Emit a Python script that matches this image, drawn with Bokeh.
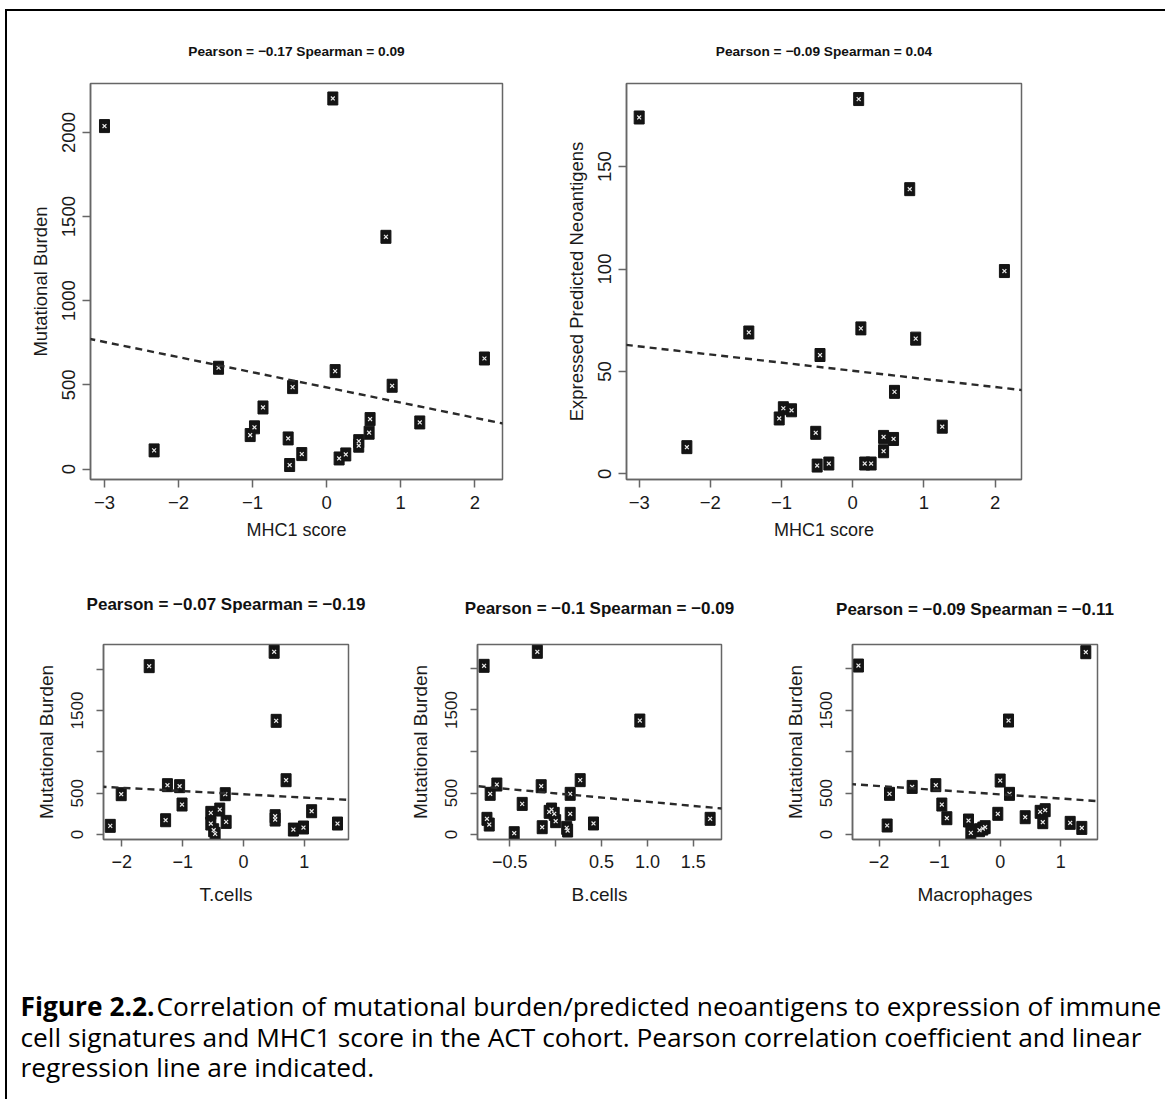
from bokeh.plotting import figure
from bokeh.layouts import column, row
from bokeh.models import Spacer, Slope, FixedTicker, Range1d, ColumnDataSource
from bokeh.core.properties import value
from bokeh.embed import file_html
from bokeh.resources import INLINE

# ---------------- data ----------------
mhc1 = [-3.0, -2.33, -1.46, -1.033, -0.975, -0.86, -0.52, -0.50, -0.46, -0.336, 0.083,
        0.114, 0.168, 0.258, 0.433, 0.433, 0.573, 0.586, 0.80, 0.884, 1.257, 2.13]
mut_mhc1 = [2038, 111, 602, 202, 248, 366, 182, 24, 487, 89, 2202,
            582, 63, 87, 139, 166, 216, 297, 1380, 495, 277, 657]
neo_mhc1 = [174, 13, 69, 27, 32, 31, 20, 4, 58, 5, 183,
            71, 5, 5, 18, 11, 17, 40, 139, 66, 23, 99]

tcells = [-2.19, -2.01, -1.55, -1.25, -1.05, -1.01, -1.28, -0.537, -0.537, -0.49, -0.466,
          -0.39, -0.285, -0.30, 0.504, 0.537, 0.70, 0.52, 0.52, 0.82, 0.986, 1.12, 1.545]
mut_tcells = [105, 488, 2036, 597, 585, 363, 173, 262, 133, 52, 8,
              302, 153, 488, 2210, 1375, 657, 222, 181, 60, 85, 282, 133]

bcells = [-0.78, -0.20, 0.917, 0.267, -0.641, -0.158, -0.714, 0.158, -0.365, -0.749, -0.724,
          -0.452, -0.147, -0.071, -0.045, -0.016, 0.0, 0.12, 0.13, 0.158, 0.412, 1.683]
mut_bcells = [2032, 2201, 1373, 655, 602, 582, 490, 490, 369, 189, 120,
              16, 88, 273, 301, 249, 161, 80, 48, 249, 133, 189]

macro = [-2.34, 1.414, 0.138, 0.0, -1.453, -1.062, -1.827, 0.154, -0.963, -0.88, -1.866,
         -0.523, -0.484, -0.341, -0.286, -0.248, -0.039, 0.413, 0.66, 0.743, 0.704, 1.156, 1.348]
mut_macro = [2040, 2201, 1376, 652, 575, 596, 491, 491, 362, 197, 109,
             169, 20, 52, 72, 89, 250, 209, 274, 294, 149, 141, 80]

# regression lines (slope, intercept)
fit_mhc1_mut = (-90.1, 485.0)
fit_mhc1_neo = (-3.97, 50.3)
fit_tcells = (-39.3, 486.6)
fit_bcells = (-100.9, 496.0)
fit_macro = (-50.4, 484.7)

titles = ["Pearson = \u22120.17 Spearman = 0.09",
          "Pearson = \u22120.09 Spearman = 0.04",
          "Pearson = \u22120.07 Spearman = \u22120.19",
          "Pearson = \u22120.1 Spearman = \u22120.09",
          "Pearson = \u22120.09 Spearman = \u22120.11"]

ticks_mhc1_x = [-3, -2, -1, 0, 1, 2]
ticks_mut_top = [0, 500, 1000, 1500, 2000]
ticks_neo = [0, 50, 100, 150]
ticks_t_x = [-2, -1, 0, 1]
ticks_b_x = [-0.5, 0.0, 0.5, 1.0, 1.5]
ticks_m_x = [-2, -1, 0, 1]
ticks_mut_bottom = [0, 500, 1000, 1500, 2000]
labels_mut_bottom = ["0", "500", "", "1500", ""]
labels_b_x = ["\u22120.5", "", "0.5", "1.0", "1.5"]

caption_bold = "Figure 2.2."
caption_l1 = "Correlation of mutational burden/predicted neoantigens to expression of immune"
caption_l2 = "cell signatures and MHC1 score in the ACT cohort. Pearson correlation coefficient and linear"
caption_l3 = "regression line are indicated."

FONT = "Liberation Sans"
GRAY = "#666666"


def fmt(v):
    if isinstance(v, float) and v != int(v):
        s = "%.1f" % v
    else:
        s = "%d" % int(v)
    return s.replace("-", "\u2212")


def panel(x, y, xr, yr, xt, yt, title, xlabel, ylabel, fit,
          fw, fh, bl, br, bt, bb, big, tstand, xt_labels=None, yt_labels=None):
    p = figure(frame_width=fw, frame_height=fh, x_range=Range1d(*xr), y_range=Range1d(*yr),
               min_border_left=bl, min_border_right=br, min_border_top=bt, min_border_bottom=bb,
               output_backend="svg", toolbar_location=None, title=title)
    p.grid.visible = False
    p.outline_line_color = GRAY
    p.outline_line_width = 1.5
    p.background_fill_color = "white"
    p.border_fill_color = "white"
    p.title.align = "center"
    p.title.text_font = FONT
    p.title.text_font_style = "bold"
    p.title.text_color = "#111111"
    p.title.standoff = tstand
    p.title.text_font_size = "13.7px" if big else "17px"

    for ax in (p.xaxis[0], p.yaxis[0]):
        ax.axis_line_color = GRAY
        ax.axis_line_width = 1.5
        ax.major_tick_line_color = GRAY
        ax.major_tick_line_width = 1.5
        ax.major_tick_out = 8 if big else 7
        ax.major_tick_in = 0
        ax.minor_tick_out = 0
        ax.minor_tick_in = 0
        ax.major_label_text_font = FONT
        ax.major_label_text_color = "#1a1a1a"
        ax.axis_label_text_font = FONT
        ax.axis_label_text_font_style = "normal"
        ax.axis_label_text_color = "#1a1a1a"

    p.xaxis.ticker = FixedTicker(ticks=xt)
    p.yaxis.ticker = FixedTicker(ticks=yt)
    xl = xt_labels if xt_labels is not None else [fmt(v) for v in xt]
    yl = yt_labels if yt_labels is not None else [fmt(v) for v in yt]
    p.xaxis.major_label_overrides = {v: l for v, l in zip(xt, xl)}
    p.yaxis.major_label_overrides = {v: l for v, l in zip(yt, yl)}
    p.yaxis.major_label_orientation = "vertical"
    p.xaxis.axis_label = xlabel
    p.yaxis.axis_label = ylabel
    if big:
        p.xaxis.major_label_text_font_size = "18.5px"
        p.yaxis.major_label_text_font_size = "18.5px"
        p.xaxis.axis_label_text_font_size = "18px"
        p.yaxis.axis_label_text_font_size = "18.5px"
        p.xaxis.major_label_standoff = 8
        p.yaxis.major_label_standoff = 7
        p.xaxis.axis_label_standoff = 8
        p.yaxis.axis_label_standoff = 9
    else:
        p.xaxis.major_label_text_font_size = "18px"
        p.yaxis.major_label_text_font_size = "17px"
        p.xaxis.axis_label_text_font_size = "19px"
        p.yaxis.axis_label_text_font_size = "19px"
        p.xaxis.major_label_standoff = 8
        p.yaxis.major_label_standoff = 13
        p.xaxis.axis_label_standoff = 13
        p.yaxis.axis_label_standoff = 12

    p.add_layout(Slope(gradient=fit[0], y_intercept=fit[1], line_color="#2a2a2a",
                       line_width=2.4, line_dash="7 5"))
    src = ColumnDataSource(dict(x=x, y=y))
    p.rect("x", "y", width=10, height=13, width_units="screen", height_units="screen",
           fill_color="#141414", line_color="#141414", line_width=1, source=src)
    p.scatter("x", "y", marker="x", size=5.5, line_color="#e8e8e8", line_width=1.2, source=src)
    return p


tl = panel(mhc1, mut_mhc1, (-3.189, 2.374), (-62, 2291), ticks_mhc1_x, ticks_mut_top,
           titles[0], "MHC1 score", "Mutational Burden", fit_mhc1_mut,
           412, 396, 83, 58, 71, 80, True, 49)
tr = panel(mhc1, neo_mhc1, (-3.178, 2.370), (-2.8, 190.6), ticks_mhc1_x, ticks_neo,
           titles[1], "MHC1 score", "Expressed Predicted Neoantigens", fit_mhc1_neo,
           395, 396, 66, 144, 72, 79, True, 49)
pt = panel(tcells, mut_tcells, (-2.301, 1.726), (-60, 2298), ticks_t_x, ticks_mut_bottom,
           titles[2], "T.cells", "Mutational Burden", fit_tcells,
           245, 195, 96, 32, 86, 91, False, 61, yt_labels=labels_mut_bottom)
pb = panel(bcells, mut_bcells, (-0.852, 1.807), (-60, 2289), ticks_b_x, ticks_mut_bottom,
           titles[3], "B.cells", "Mutational Burden", fit_bcells,
           244, 195, 97, 39, 85, 92, False, 53, xt_labels=labels_b_x, yt_labels=labels_mut_bottom)
pm = panel(macro, mut_macro, (-2.438, 1.607), (-60, 2294), ticks_m_x, ticks_mut_bottom,
           titles[4], "Macrophages", "Mutational Burden", fit_macro,
           245, 195, 92, 68, 84, 93, False, 52, yt_labels=labels_mut_bottom)

# caption
cap = figure(width=1158, height=165, x_range=Range1d(0, 1158), y_range=Range1d(165, 0),
             output_backend="svg", toolbar_location=None, min_border=0)
cap.axis.visible = False
cap.grid.visible = False
cap.outline_line_color = None
cap.background_fill_color = "white"
cap.border_fill_color = "white"
CAPFONT = value("Open Sans")
CAPSIZE = "26.3px"
cap.text(x=[13], y=[75], text=[caption_bold], text_font=CAPFONT, text_font_size=CAPSIZE,
         text_font_style="bold", text_baseline="middle", text_color="black")
cap.text(x=[149], y=[75], text=[caption_l1], text_font=CAPFONT, text_font_size=CAPSIZE,
         text_baseline="middle", text_color="black")
cap.text(x=[13, 13], y=[106, 136], text=[caption_l2, caption_l3], text_font=CAPFONT,
         text_font_size=CAPSIZE, text_baseline="middle", text_color="black")

content = column(row(tl, tr, spacing=0), row(pt, pb, pm, spacing=0), cap, spacing=0)

page = column(
    Spacer(width=1165, height=9),
    row(Spacer(width=5, height=2), Spacer(width=1160, height=2, styles={"background-color": "black"}), spacing=0),
    row(Spacer(width=5, height=1088),
        Spacer(width=2, height=1088, styles={"background-color": "black"}),
        content, spacing=0),
    spacing=0,
)

open("out.html", "w").write(file_html(page, INLINE))
